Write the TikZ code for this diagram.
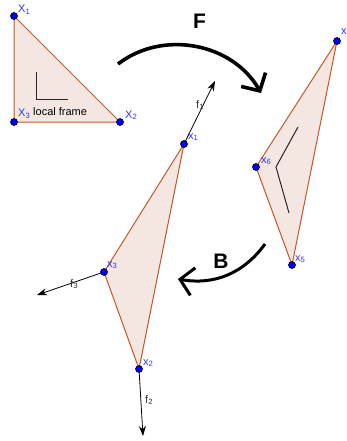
\documentclass[tikz,border=0pt]{standalone}
\usepackage{fontspec}
\setmainfont{Liberation Sans}
\usetikzlibrary{arrows.meta}
\definecolor{ptblue}{RGB}{0,0,255}
\definecolor{lblblue}{RGB}{50,50,255}
\definecolor{edgec}{RGB}{200,85,40}
\definecolor{fillc}{RGB}{244,231,226}

\begin{document}
\begin{tikzpicture}[x=1pt,y=-1pt,
    pt/.style={circle,draw=black,fill=ptblue,line width=0.6pt,minimum size=7pt,inner sep=0pt},
    lbl/.style={text=lblblue,font=\fontsize{11}{11}\selectfont,inner sep=0pt,anchor=base west},
    flbl/.style={text=black!80,font=\fontsize{11}{11}\selectfont,inner sep=0pt,anchor=base west},
    maplbl/.style={font=\bfseries\fontsize{21}{21}\selectfont,inner sep=0pt},
    tri/.style={draw=edgec,fill=fillc,line width=1pt,line join=round},
    force/.style={-{Stealth[length=10pt,width=7pt]},line width=0.8pt},
    frameline/.style={line width=1pt,black!85},
    map/.style={-{Straight Barb[length=13pt,width=28pt]}}]
    \useasboundingbox (0,0) rectangle (346,441);
    % reference triangle
    \coordinate (X1) at (14,16);
    \coordinate (X2) at (120,122);
    \coordinate (X3) at (14,122);
    \draw[tri] (X1) -- (X2) -- (X3) -- cycle;
    \draw[frameline] (36,72) -- (36,100) -- (68,100);
    % deformed triangle
    \coordinate (x1) at (184,144);
    \coordinate (x2) at (139,369);
    \coordinate (x3) at (104,272);
    \draw[tri] (x1) -- (x2) -- (x3) -- cycle;
    % mapped triangle
    \coordinate (x4) at (337,41);
    \coordinate (x5) at (292,265);
    \coordinate (x6) at (256,167);
    \draw[tri] (x4) -- (x5) -- (x6) -- cycle;
    \draw[frameline] (298,127) -- (276,167) -- (289,213);
    % forces
    \coordinate (f1) at (215,81);
    \coordinate (f2) at (143,436);
    \coordinate (f3) at (37,295);
    \draw[force] (x1) -- (f1);
    \draw[force] (x2) -- (f2);
    \draw[force] (x3) -- (f3);
    \node[flbl] (lf1) at (196,108) {f\textsubscript{1}};
    \node[flbl] (lf2) at (145,403) {f\textsubscript{2}};
    \node[flbl] (lf3) at (70,287) {f\textsubscript{3}};
    % maps F and B
    \coordinate (Fs) at (118,64);
    \coordinate (Fe) at (261,93);
    \draw[map,line width=3.6pt] (Fs) to[bend left=49] (Fe);
    \node[maplbl] (F) at (199.5,21) {F};
    \coordinate (Bs) at (265,244);
    \coordinate (Be) at (178,279);
    \draw[map,line width=3pt] (Bs) to[bend left=32] (Be);
    \node[maplbl] (B) at (221,261) {B};
    % points
    \foreach \p in {X1,X2,X3,x1,x2,x3,x4,x5,x6}
      \node[pt] (d\p) at (\p) {};
    \node[lbl] (lX1) at (18,13) {X\textsubscript{1}};
    \node[lbl] (lX2) at (125,118) {X\textsubscript{2}};
    \node[lbl] (lX3) at (18,117) {X\textsubscript{3}};
    \node[anchor=base west,inner sep=0pt,font=\fontsize{11}{11}\selectfont] (lframe) at (33,115) {local frame};
    \node[lbl] (lx1) at (188,139) {x\textsubscript{1}};
    \node[lbl] (lx2) at (143,365) {x\textsubscript{2}};
    \node[lbl] (lx3) at (107,267) {x\textsubscript{3}};
    \node[lbl] (lx4) at (341,35) {x};
    \node[lbl] (lx5) at (295,261) {x\textsubscript{5}};
    \node[lbl] (lx6) at (261,163) {x\textsubscript{6}};
\end{tikzpicture}
\end{document}
